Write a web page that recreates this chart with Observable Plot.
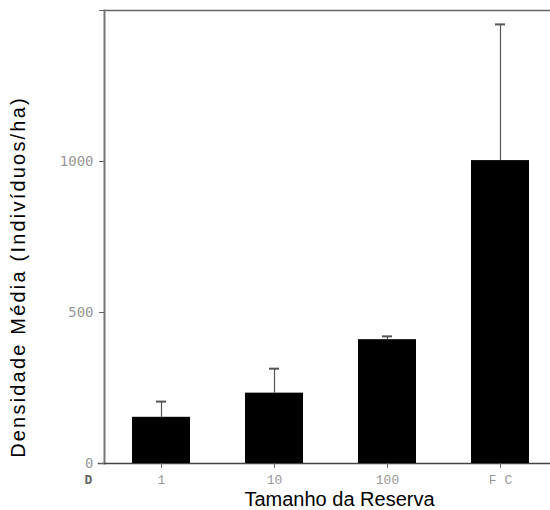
<!DOCTYPE html>
<html>
<head>
<meta charset="utf-8">
<script src="https://cdn.jsdelivr.net/npm/d3@7"></script>
<script src="https://cdn.jsdelivr.net/npm/@observablehq/plot@0.6"></script>
<style>
  body { margin: 0; background: white; }
</style>
</head>
<body>
<div id="chart"></div>
<script>
const categories = ["1", "10", "100", "F C"];
const means = [153, 233, 410, 1003];
const errTops = [205, 314, 421, 1454];
const yTicks = [0, 500, 1000, 1500];

const data = categories.map((c, i) => ({cat: c, mean: means[i], err: errTops[i]}));

const chart = Plot.plot({
  width: 550,
  height: 510,
  marginLeft: 104,
  marginRight: 0,
  marginTop: 10,
  marginBottom: 47,
  x: {domain: categories, range: [104, 556], paddingInner: 0.488, paddingOuter: 0.24},
  y: {domain: [0, 1500]},
  marks: [
    Plot.frame({anchor: "top", stroke: "#666", strokeWidth: 1.5}),
    Plot.frame({anchor: "left", stroke: "#777", strokeWidth: 2}),
    Plot.frame({anchor: "bottom", stroke: "#444", strokeWidth: 1.5, insetLeft: -6}),
    Plot.ruleX(data, {x: "cat", y1: "mean", y2: "err", stroke: "#555", strokeWidth: 1.2}),
    Plot.tickY(data, {x: "cat", y: "err", stroke: "#555", strokeWidth: 2, insetLeft: 24, insetRight: 24}),
    Plot.barY(data, {x: "cat", y: "mean", fill: "black"}),
    Plot.axisY({ticks: yTicks, tickSize: 5, tickPadding: 6, tickFormat: d => d === 1500 ? "" : String(d),
      label: null, fontSize: 14, fontFamily: "DejaVu Sans Mono", fill: "#999", stroke: "#666"}),
    Plot.axisX({tickSize: 5, tickPadding: 6, label: null, fontSize: 13,
      fontFamily: "Liberation Mono", fill: "#999", stroke: "#666"}),
    Plot.text(["D"], {frameAnchor: "bottom-left", dx: -20, dy: 20, fontSize: 13, fontWeight: "bold",
      fontFamily: "DejaVu Sans Mono", fill: "#666"}),
    Plot.text(["Tamanho da Reserva"], {frameAnchor: "bottom", dx: 12, dy: 36, lineAnchor: "middle",
      textAnchor: "middle", fontSize: 20, fontFamily: "Liberation Sans", fill: "black"}),
    Plot.text(["Densidade Média (Indivíduos/ha)"], {frameAnchor: "left", dx: -86, dy: 40, rotate: -90,
      textAnchor: "middle", lineAnchor: "middle",
      fontSize: 20, fontFamily: "Liberation Sans", fill: "black"})
  ]
});
d3.select(chart).selectAll("text").filter(function() {
  return this.textContent === "Densidade Média (Indivíduos/ha)";
}).style("letter-spacing", "2.2px");
document.getElementById("chart").appendChild(chart);
</script>
</body>
</html>
